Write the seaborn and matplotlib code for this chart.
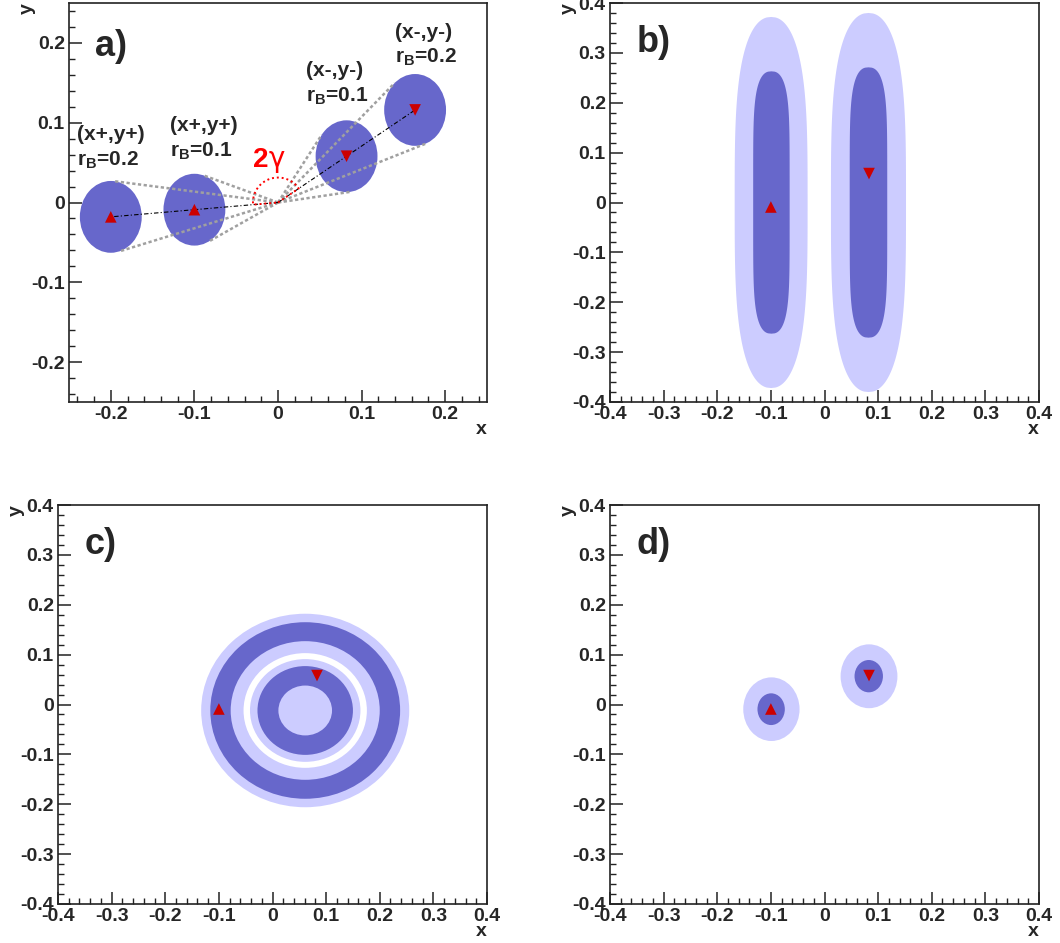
import numpy as np
import matplotlib
matplotlib.use("Agg")
import matplotlib.pyplot as plt
from matplotlib.patches import Ellipse
from matplotlib.ticker import FixedLocator, MultipleLocator, FuncFormatter
import seaborn as sns
import pandas as pd

# ---------------- data ----------------
# panel a: solutions (x, y) for rB = 0.2 / 0.1
pt_x = [-0.2, -0.1, 0.082, 0.164]
pt_y = [-0.018, -0.009, 0.058, 0.116]
pt_kind = ["up", "up", "down", "down"]
labels_a = ["(x+,y+)", "(x+,y+)", "(x-,y-)", "(x-,y-)"]
rb_labels = ["0.2", "0.1", "0.1", "0.2"]
err_rx_a = 0.037
err_ry_a = 0.045
label_left_a = [-0.241, -0.129, 0.034, 0.140]
label_top_a = [0.085, 0.096, 0.165, 0.213]
label_rb_a = [0.053, 0.064, 0.1325, 0.1825]

# markers for panels b, c, d
mk_x = [-0.1, 0.083]
mk_y = [-0.009, 0.058]
mk_kind = ["up", "down"]

# panel b regions: centre x, centre y, half-width, half-height
b_light = [(-0.0995, 0.0, 0.068, 0.372), (0.082, 0.0, 0.070, 0.380)]
b_dark = [(-0.099, 0.0, 0.034, 0.263), (0.082, 0.0, 0.035, 0.271)]

# panel c rings
c_center = (0.061, -0.012)
c_radii = [0.194, 0.177, 0.139, 0.115, 0.103, 0.089, 0.050]
c_fill = ["light", "dark", "light", "white", "light", "dark", "light"]

# panel d regions
d_light = [(-0.099, -0.0094, 0.0525, 0.0638), (0.083, 0.0566, 0.053, 0.064)]
d_dark = [(-0.0995, -0.0094, 0.0255, 0.0318), (0.0825, 0.0568, 0.0265, 0.0324)]

# ---------------- style ----------------
sns.set_style("white")
plt.rcParams["font.family"] = ["Liberation Sans", "DejaVu Sans"]
plt.rcParams["font.weight"] = "bold"
plt.rcParams["mathtext.fontset"] = "custom"
plt.rcParams["mathtext.rm"] = "Liberation Sans:bold"
plt.rcParams["mathtext.bf"] = "Liberation Sans:bold"
plt.rcParams["mathtext.it"] = "Liberation Sans:bold"

DARK = "#6767CB"
LIGHT = "#CCCCFF"
RED = "#CC0000"

W, H = 1060, 943
fig = plt.figure(figsize=(W / 100, H / 100), dpi=100)


def make_ax(l, t, r, b):
    return fig.add_axes([l / W, 1 - b / H, (r - l) / W, (b - t) / H])


ax_a = make_ax(69, 3, 487, 402)
ax_b = make_ax(610, 3, 1039, 402)
ax_c = make_ax(58, 505, 487, 904)
ax_d = make_ax(610, 505, 1039, 904)


def fmt(v, pos):
    if abs(v) < 1e-9:
        return "0"
    return f"{v:g}"


def style_axes(ax, lim, majors):
    ax.set_xlim(-lim, lim)
    ax.set_ylim(-lim, lim)
    for ax_ in (ax.xaxis, ax.yaxis):
        ax_.set_major_locator(FixedLocator(majors))
        ax_.set_minor_locator(MultipleLocator(0.02))
        ax_.set_major_formatter(FuncFormatter(fmt))
    ax.tick_params(which="both", direction="in", top=False, right=False,
                   left=True, bottom=True, color="#222222")
    ax.tick_params(which="major", length=9, width=1.1, labelsize=14, pad=3)
    ax.tick_params(which="minor", length=4.5, width=1.0)
    for lab in ax.get_xticklabels() + ax.get_yticklabels():
        lab.set_fontweight("bold")
    for s in ax.spines.values():
        s.set_visible(True)
        s.set_color("#222222")
        s.set_linewidth(1.2)
    ax.set_xlabel("")
    ax.set_ylabel("")


def add_markers(ax, xs, ys, kinds):
    df = pd.DataFrame({"x": xs, "y": ys, "k": kinds})
    sns.scatterplot(data=df, x="x", y="y", style="k",
                    markers={"up": "^", "down": "v"}, color=RED, s=70,
                    linewidth=0, ax=ax, legend=False, zorder=10)


def tube(ax, cx, cy, a, b, p, q, color):
    yy = np.linspace(-1, 1, 801)
    w = a * np.clip(1 - np.abs(yy) ** p, 0, 1) ** q
    xs = np.concatenate([cx + w, (cx - w)[::-1]])
    ys = np.concatenate([cy + b * yy, (cy + b * yy)[::-1]])
    ax.fill(xs, ys, color=color, lw=0, zorder=2)


def panel_label(ax, txt, fx, fy):
    ax.text(fx, fy, txt, transform=ax.transAxes, fontsize=26,
            fontweight="bold", ha="left", va="center")


def axis_titles(ax, l, t, r, b):
    fig.text(r / W, 1 - (b + 28) / H, "x", ha="right", va="center",
             fontsize=14, fontweight="bold")
    fig.text((l - 42) / W, 1 - t / H, "y", ha="center", va="top",
             rotation=90, fontsize=14, fontweight="bold")


# ---------------- panel a ----------------
ax = ax_a
s_scale = err_rx_a / err_ry_a
for x0, y0 in zip(pt_x, pt_y):
    ax.add_patch(Ellipse((x0, y0), 2 * err_rx_a, 2 * err_ry_a, color=DARK,
                         lw=0, zorder=2))
    # tangent lines from origin
    cy_s = y0 * s_scale
    d = np.hypot(x0, cy_s)
    alpha = np.arcsin(err_rx_a / d)
    L = np.sqrt(d ** 2 - err_rx_a ** 2)
    th = np.arctan2(cy_s, x0)
    for sg in (1, -1):
        tx = L * np.cos(th + sg * alpha)
        ty = L * np.sin(th + sg * alpha) / s_scale
        ax.plot([0, tx], [0, ty], color="#A0A0A0", lw=1.8,
                dashes=(1.3, 1.0), zorder=4)
# dash-dot lines from origin to outermost points
ax.plot([0, pt_x[0]], [0, pt_y[0]], color="black", lw=0.8,
        dashes=(4, 2, 1, 2), zorder=5)
ax.plot([0, pt_x[3]], [0, pt_y[3]], color="black", lw=0.8,
        dashes=(4, 2, 1, 2), zorder=5)
# 2 gamma arc (wedge outline), circular in pixel space
px_per_x, px_per_y = 835.0, 800.0
r_pix = 25.0
ang_d = np.arctan2(pt_y[3] * px_per_y, pt_x[3] * px_per_x)
ang_a = np.arctan2(pt_y[0] * px_per_y, pt_x[0] * px_per_x) % (2 * np.pi)
tt = np.linspace(ang_d, ang_a, 100)
arc_x = np.concatenate([[0], r_pix / px_per_x * np.cos(tt), [0]])
arc_y = np.concatenate([[0], r_pix / px_per_y * np.sin(tt), [0]])
ax.plot(arc_x, arc_y, color="red", lw=1.4, dashes=(1, 1.5), zorder=6)
ax.text(-0.011, 0.045, "2", color="red", fontsize=20, fontweight="bold",
        ha="right", va="baseline", zorder=7)
ax.text(-0.011, 0.045, "γ", color="red", fontsize=20, fontweight="normal",
        family=["DejaVu Sans"], ha="left", va="baseline", zorder=7)
for lab, rb, lx, ty, ry in zip(labels_a, rb_labels, label_left_a,
                               label_top_a, label_rb_a):
    ax.text(lx, ty, lab, fontsize=15, fontweight="bold", ha="left",
            va="center")
    ax.text(lx, ry, r"r$_{\mathbf{B}}$=" + rb, fontsize=15,
            fontweight="bold", ha="left", va="center")
add_markers(ax, pt_x, pt_y, pt_kind)
style_axes(ax, 0.25, [-0.2, -0.1, 0, 0.1, 0.2])
panel_label(ax, "a)", 0.062, 0.89)
axis_titles(ax, 69, 3, 487, 402)

# ---------------- panel b ----------------
ax = ax_b
for cx, cy, a, b in b_light:
    tube(ax, cx, cy, a, b, 3.4, 0.45, LIGHT)
for cx, cy, a, b in b_dark:
    tube(ax, cx, cy, a, b, 5.5, 0.4, DARK)
add_markers(ax, mk_x, mk_y, mk_kind)
style_axes(ax, 0.4, [-0.4, -0.3, -0.2, -0.1, 0, 0.1, 0.2, 0.3, 0.4])
panel_label(ax, "b)", 0.062, 0.90)
axis_titles(ax, 610, 3, 1039, 402)

# ---------------- panel c ----------------
ax = ax_c
cmap = {"light": LIGHT, "dark": DARK, "white": "white"}
for r, f in zip(c_radii, c_fill):
    ax.add_patch(Ellipse(c_center, 2 * r, 2 * r, color=cmap[f], lw=0,
                         zorder=2))
add_markers(ax, mk_x, mk_y, mk_kind)
style_axes(ax, 0.4, [-0.4, -0.3, -0.2, -0.1, 0, 0.1, 0.2, 0.3, 0.4])
panel_label(ax, "c)", 0.063, 0.90)
axis_titles(ax, 58, 505, 487, 904)

# ---------------- panel d ----------------
ax = ax_d
for cx, cy, a, b in d_light:
    ax.add_patch(Ellipse((cx, cy), 2 * a, 2 * b, color=LIGHT, lw=0, zorder=2))
for cx, cy, a, b in d_dark:
    ax.add_patch(Ellipse((cx, cy), 2 * a, 2 * b, color=DARK, lw=0, zorder=3))
add_markers(ax, mk_x, mk_y, mk_kind)
style_axes(ax, 0.4, [-0.4, -0.3, -0.2, -0.1, 0, 0.1, 0.2, 0.3, 0.4])
panel_label(ax, "d)", 0.062, 0.90)
axis_titles(ax, 610, 505, 1039, 904)

fig.savefig("out.png", dpi=100)
